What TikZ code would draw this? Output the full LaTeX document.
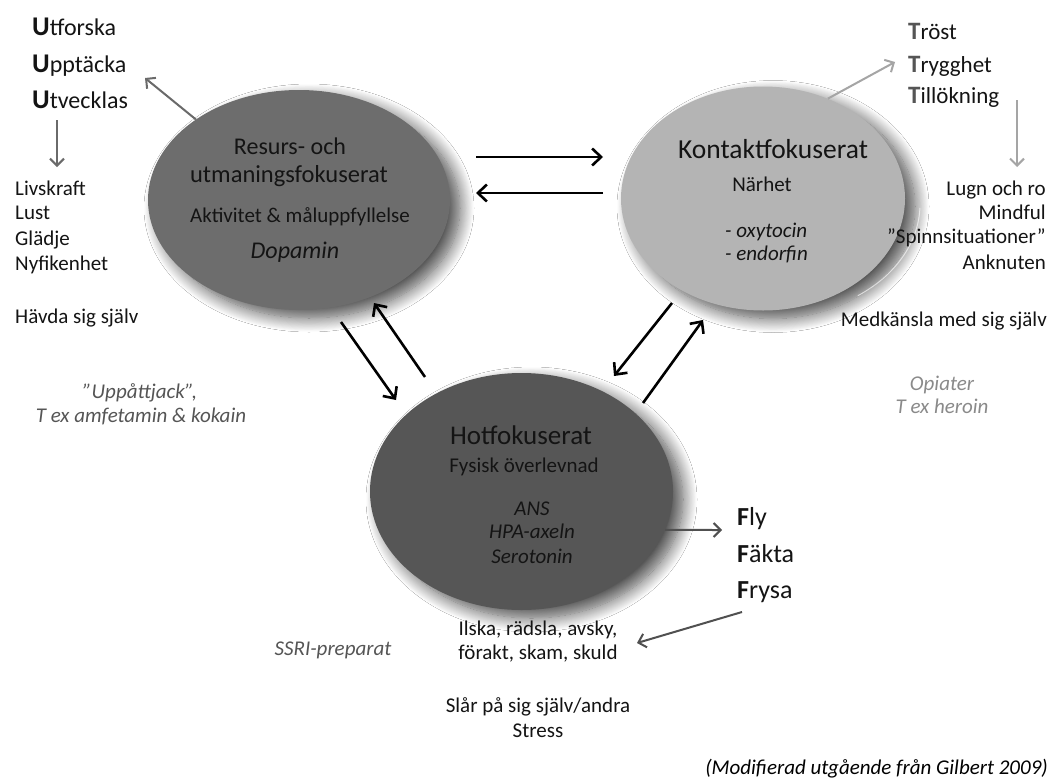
\documentclass[tikz,border=0pt]{standalone}
\usepackage{fontspec}
\setmainfont{Carlito}
\usetikzlibrary{arrows.meta,shapes.geometric,shadows.blur}
\definecolor{ink}{HTML}{141414}
\definecolor{gA}{HTML}{6D6D6D}
\definecolor{gB}{HTML}{B4B4B4}
\definecolor{gC}{HTML}{565656}
\definecolor{arrA}{HTML}{6A6A6A}
\definecolor{arrB}{HTML}{A5A5A5}
\definecolor{arrC}{HTML}{505050}
\definecolor{noteA}{HTML}{555555}
\definecolor{noteB}{HTML}{8A8A8A}
\begin{document}
\begin{tikzpicture}[x=1pt,y=-1pt,
  blob/.style={ellipse, draw=none, inner sep=0pt,
    blur shadow={shadow xshift=10pt, shadow yshift=-8pt, shadow blur radius=14pt, shadow blur steps=16, shadow opacity=70}},
  txt/.style={inner sep=0pt, text=ink, font=\fontsize{21}{25}\selectfont},
  big/.style={inner sep=0pt, text=ink, font=\fontsize{24}{28}\selectfont},
  note/.style={inner sep=0pt, font=\fontsize{21}{25}\selectfont\itshape},
  bk/.style={line width=2.6pt, black, -{Straight Barb[length=9pt,width=17pt]}},
  ga/.style={line width=2pt, draw=arrA, -{Straight Barb[length=7pt,width=14pt]}},
  gb/.style={line width=2pt, draw=arrB, -{Straight Barb[length=7pt,width=14pt]}},
  gc/.style={line width=2pt, draw=arrC, -{Straight Barb[length=7pt,width=14pt]}}]
\useasboundingbox (0,0) rectangle (1059,779);
\fill[white] (0,0) rectangle (1059,779);

% ellipses
\node[blob, fill=gA, minimum width=302pt, minimum height=220pt] (e1) at (299,200) {};
\node[blob, fill=gB, minimum width=284pt, minimum height=224pt] (e2) at (763,198.5) {};
\draw[white, opacity=0.6, line width=1pt] ([shift={(2:146 and 112)}]774,204) arc[start angle=2, end angle=55, x radius=146, y radius=112];
\node[blob, fill=gC, minimum width=303pt, minimum height=237pt] (e3) at (521.5,491.5) {};

% texts in ellipse 1
\node[txt, anchor=base, font=\fontsize{24}{28}\selectfont] (r1) at (290,154) {Resurs- och};
\node[txt, anchor=base, font=\fontsize{24.5}{28}\selectfont] (r2) at (289,182) {utmaningsfokuserat};
\node[txt, anchor=base] (r3) at (300,222) {Aktivitet \& måluppfyllelse};
\node[txt, anchor=base, font=\fontsize{24}{28}\selectfont\itshape] (r4) at (295,258) {Dopamin};

% texts in ellipse 2
\node[txt, anchor=base, font=\fontsize{27.5}{31}\selectfont] (k1) at (773,158) {Kontaktfokuserat};
\node[txt, anchor=base] (k2) at (762,191) {Närhet};
\node[txt, anchor=base west, font=\fontsize{21}{25}\selectfont\itshape] (k3) at (725,237) {- oxytocin};
\node[txt, anchor=base west, font=\fontsize{21}{25}\selectfont\itshape] (k4) at (725,260) {- endorfin};

% texts in ellipse 3
\node[txt, anchor=base, font=\fontsize{27}{31}\selectfont] (h1) at (521,444) {Hotfokuserat};
\node[txt, anchor=base] (h2) at (524,472) {Fysisk överlevnad};
\node[txt, anchor=base, font=\fontsize{21}{25}\selectfont\itshape] (h3) at (532,515) {ANS};
\node[txt, anchor=base, font=\fontsize{21}{25}\selectfont\itshape] (h4) at (532,538) {HPA-axeln};
\node[txt, anchor=base, font=\fontsize{21}{25}\selectfont\itshape] (h5) at (532,563) {Serotonin};

% top left list
\node[big, anchor=base west] (u1) at (32,35) {{\fontsize{27}{30}\selectfont\bfseries U}tforska};
\node[big, anchor=base west] (u2) at (32,72) {{\fontsize{27}{30}\selectfont\bfseries U}pptäcka};
\node[big, anchor=base west] (u3) at (32,108) {{\fontsize{27}{30}\selectfont\bfseries U}tvecklas};

% left list
\node[txt, anchor=base west] (l1) at (15,195) {Livskraft};
\node[txt, anchor=base west] (l2) at (15,219) {Lust};
\node[txt, anchor=base west] (l3) at (15,245) {Glädje};
\node[txt, anchor=base west] (l4) at (15,270) {Nyfikenhet};
\node[txt, anchor=base west] (l5) at (15,323) {Hävda sig själv};

% top right list
\node[big, anchor=base west, font=\fontsize{23}{27}\selectfont] (t1) at (908,39) {{\fontsize{25}{28}\selectfont\bfseries\color{noteA}T}röst};
\node[big, anchor=base west, font=\fontsize{23}{27}\selectfont] (t2) at (908,72) {{\fontsize{25}{28}\selectfont\bfseries\color{noteA}T}rygghet};
\node[big, anchor=base west, font=\fontsize{23}{27}\selectfont] (t3) at (908,103) {{\fontsize{25}{28}\selectfont\bfseries\color{noteA}T}illökning};

% right list
\node[txt, anchor=base east] (m1) at (1046,195) {Lugn och ro};
\node[txt, anchor=base east] (m2) at (1046,219) {Mindful};
\node[txt, anchor=base east] (m3) at (1046,243) {”Spinnsituationer”};
\node[txt, anchor=base east] (m4) at (1046,269) {Anknuten};
\node[txt, anchor=base east] (m5) at (1047,326) {Medkänsla med sig själv};

% F list
\node[big, anchor=base west, font=\fontsize{26}{30}\selectfont] (f1) at (737,525) {{\bfseries F}ly};
\node[big, anchor=base west, font=\fontsize{26}{30}\selectfont] (f2) at (737,562) {{\bfseries F}äkta};
\node[big, anchor=base west, font=\fontsize{26}{30}\selectfont] (f3) at (737,598) {{\bfseries F}rysa};

% bottom texts
\node[txt, anchor=base] (b1) at (538,635) {Ilska, rädsla, avsky,};
\node[txt, anchor=base] (b2) at (538,659) {förakt, skam, skuld};
\node[txt, anchor=base] (b3) at (538,712) {Slår på sig själv/andra};
\node[txt, anchor=base] (b4) at (538,737) {Stress};

% notes
\node[note, text=noteA, anchor=base] (n1) at (140,398) {”Uppåttjack”,};
\node[note, text=noteA, anchor=base] (n2) at (141,422) {T ex amfetamin \& kokain};
\node[note, text=noteA, anchor=base] (n3) at (333,655) {SSRI-preparat};
\node[note, text=noteB, anchor=base] (n4) at (942,390) {Opiater};
\node[note, text=noteB, anchor=base] (n5) at (942,413) {T ex heroin};
\node[note, text=black, anchor=base east] (n6) at (1048,774) {(Modifierad utgående från Gilbert 2009)};

% coordinates
\coordinate (cU) at (145,78);
\coordinate (cD1) at (57,120);
\coordinate (cD2) at (57,167);
\coordinate (cT) at (895,62);
\coordinate (cR1) at (1017,100);
\coordinate (cR2) at (1017,167);
\coordinate (cF) at (722,530);
\coordinate (cE1) at (742,612);
\coordinate (cE2) at (637,643);
\coordinate (p1) at (476,157);
\coordinate (p2) at (603,157);
\coordinate (p3) at (603,193);
\coordinate (p4) at (476,193);
\coordinate (q1) at (341,322);
\coordinate (q2) at (396,400);
\coordinate (q3) at (425,377);
\coordinate (q4) at (374,303);
\coordinate (s1) at (672,303);
\coordinate (s2) at (614,376);
\coordinate (s3) at (643,403);
\coordinate (s4) at (703,320);

% gray arrows
\draw[ga] (e1.142) -- (cU);
\draw[ga] (cD1) -- (cD2);
\draw[gb] (e2.57) -- (cT);
\draw[gb] (cR1) -- (cR2);
\draw[gc] (e3.-15) -- (cF);
\draw[gc] (cE1) -- (cE2);

% black arrows
\draw[bk] (p1) -- (p2);
\draw[bk] (p3) -- (p4);
\draw[bk] (q1) -- (q2);
\draw[bk] (q3) -- (q4);
\draw[bk] (s1) -- (s2);
\draw[bk] (s3) -- (s4);
\end{tikzpicture}
\end{document}
